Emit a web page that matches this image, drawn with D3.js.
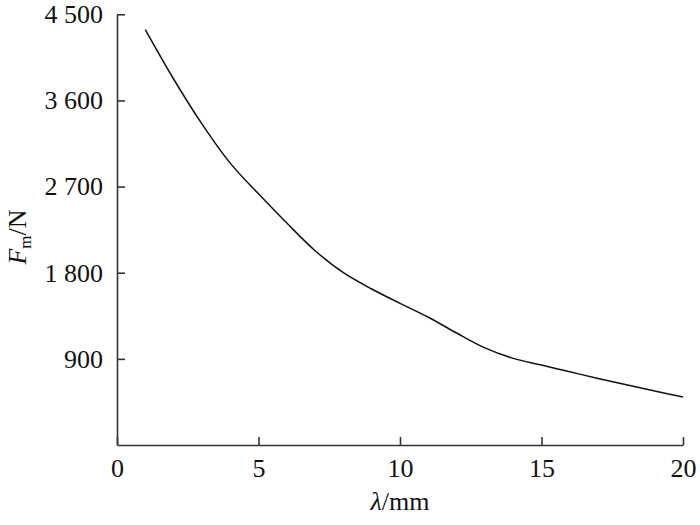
<!DOCTYPE html>
<html>
<head>
<meta charset="utf-8">
<script src="https://cdn.jsdelivr.net/npm/d3@7"></script>
<style>
  body { margin: 0; background: #fff; }
  svg { display: block; }
  text { font-family: "Liberation Serif", "Times New Roman", serif; fill: #111; }
</style>
</head>
<body>
<svg id="chart" width="700" height="525"></svg>
<script>
const lambdaValues = [1, 2, 3, 4, 5, 6, 7, 8, 9, 10, 11, 12, 13, 14, 15, 16, 17, 18, 19, 20];
const forceValues = [4340, 3824, 3355, 2945, 2624, 2319, 2030, 1800, 1630, 1480, 1335, 1170, 1015, 905, 835, 765, 695, 630, 565, 502];
const xTicks = [0, 5, 10, 15, 20];
const yTicks = [900, 1800, 2700, 3600, 4500];
const yTickLabels = ["900", "1 800", "2 700", "3 600", "4 500"];

const svg = d3.select("#chart");
const x = d3.scaleLinear().domain([0, 20]).range([117, 683]);
const y = d3.scaleLinear().domain([0, 4500]).range([445, 14.3]);

const axisColor = "#333";
const fs = 26;

// X axis
const xAxis = d3.axisBottom(x).tickValues(xTicks).tickSize(-8).tickSizeOuter(0)
  .tickFormat(d3.format("d")).tickPadding(14);
const gx = svg.append("g").attr("transform", `translate(0,${y(0)})`).call(xAxis);
gx.select(".domain").attr("stroke", axisColor).attr("stroke-width", 1.6);
gx.selectAll(".tick line").attr("stroke", axisColor).attr("stroke-width", 1.6);
gx.selectAll(".tick text").style("font-size", fs + "px").attr("fill", "#111")
  .style("font-family", "'Liberation Serif', serif");

// Y axis
const yAxis = d3.axisLeft(y).tickValues(yTicks).tickSize(-8).tickSizeOuter(0)
  .tickFormat((d, i) => yTickLabels[i]).tickPadding(14);
const gy = svg.append("g").attr("transform", `translate(${x(0)},0)`).call(yAxis);
gy.select(".domain").attr("stroke", axisColor).attr("stroke-width", 1.6);
gy.selectAll(".tick line").attr("stroke", axisColor).attr("stroke-width", 1.6);
gy.selectAll(".tick text").style("font-size", fs + "px").attr("fill", "#111")
  .style("font-family", "'Liberation Serif', serif");

// Curve
const data = lambdaValues.map((l, i) => ({ l, f: forceValues[i] }));
const line = d3.line().x(d => x(d.l)).y(d => y(d.f)).curve(d3.curveCatmullRom.alpha(0.5));
svg.append("path").datum(data).attr("d", line)
  .attr("fill", "none").attr("stroke", "#111").attr("stroke-width", 1.5);

// X label
const xl = svg.append("text").attr("x", 400).attr("y", 510).attr("text-anchor", "middle")
  .style("font-size", fs + "px");
xl.append("tspan").attr("font-style", "italic").text("λ");
xl.append("tspan").text("/mm");

// Y label
const yl = svg.append("text").attr("transform", "translate(26,237) rotate(-90)")
  .attr("text-anchor", "middle").style("font-size", fs + "px");
yl.append("tspan").attr("font-style", "italic").text("F");
yl.append("tspan").attr("dy", 5).style("font-size", "17px").text("m");
yl.append("tspan").attr("dy", -5).text("/N");
</script>
</body>
</html>
